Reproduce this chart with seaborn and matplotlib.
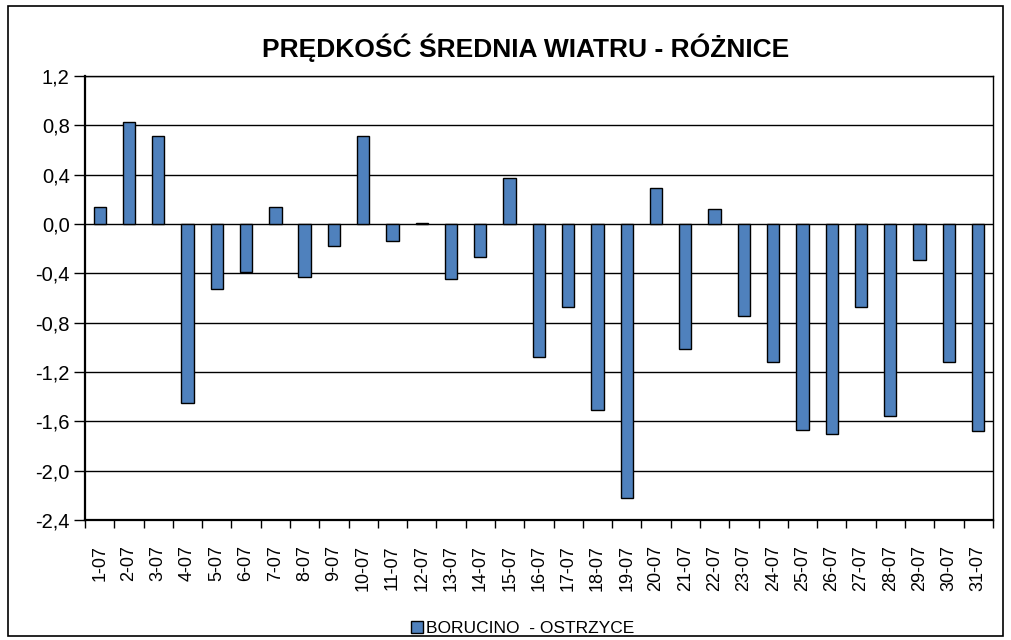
import numpy as np
import pandas as pd
import matplotlib
matplotlib.use("Agg")
import matplotlib.pyplot as plt
import seaborn as sns
from matplotlib.patches import Rectangle

# data
days = [f"{d}-07" for d in range(1, 32)]
diff = [0.14, 0.83, 0.71, -1.45, -0.53, -0.39, 0.14, -0.43, -0.18, 0.71,
        -0.14, 0.01, -0.45, -0.27, 0.37, -1.08, -0.67, -1.51, -2.22, 0.29,
        -1.01, 0.12, -0.75, -1.12, -1.67, -1.70, -0.67, -1.56, -0.29, -1.12,
        -1.68]
series_name = "BORUCINO  - OSTRZYCE"
title = "PRĘDKOŚĆ ŚREDNIA WIATRU - RÓŻNICE"
yticks = np.arange(-2.4, 1.21, 0.4)

df = pd.DataFrame({"day": days, "diff": diff})

sns.set_theme(style="white")
plt.rcParams["font.family"] = ["Liberation Sans", "DejaVu Sans"]

fig = plt.figure(figsize=(10.11, 6.4), dpi=100)
ax = fig.add_axes([0.0841, 0.1875, 0.8979, 0.6938])

sns.barplot(data=df, x="day", y="diff", color="#4F81BD", edgecolor="black",
            linewidth=1.0, width=0.42, saturation=1, label=series_name, ax=ax)
if ax.get_legend() is not None:
    ax.get_legend().remove()

ax.set_xlim(-0.5, len(days) - 0.5)
ax.set_ylim(-2.4, 1.2)
ax.set_yticks(yticks)
ax.set_yticklabels([f"{v:.1f}".replace(".", ",").replace("-0,0", "0,0") for v in yticks])
ax.yaxis.grid(True, color="black", linewidth=1.0)
ax.set_axisbelow(True)
ax.tick_params(axis="y", left=True, length=8, width=1, direction="out", pad=3,
               color="black", labelsize=14.5, labelcolor="black")

ax.set_xticks(range(len(days)))
ax.set_xticklabels(days, rotation=90)
ax.set_xticks(np.arange(-0.5, len(days), 1), minor=True)
ax.tick_params(axis="x", which="major", length=0, pad=18, labelsize=13, labelcolor="black")
ax.tick_params(axis="x", which="minor", bottom=True, length=6, width=1, color="black")
ax.set_xlabel("")
ax.set_ylabel("")

for side in ["left", "bottom"]:
    ax.spines[side].set_color("black")
    ax.spines[side].set_linewidth(1.6)
for side in ["right", "top"]:
    ax.spines[side].set_color("black")
    ax.spines[side].set_linewidth(1.0)

fig.text(0.52, 0.926, title, ha="center", va="center", fontsize=19, fontweight="bold",
         color="black")

handles, labels = ax.get_legend_handles_labels()
fig.legend(handles, labels, loc="center", bbox_to_anchor=(0.517, 0.018), frameon=False,
           fontsize=12.5, handlelength=0.7, handleheight=0.7, handletextpad=0.2,
           labelcolor="black")

# outer chart border
fig.patches.append(Rectangle((0.008, 0.006), 0.984, 0.985, transform=fig.transFigure,
                             fill=False, edgecolor="black", linewidth=1.2))

fig.savefig("out.png", dpi=100)
